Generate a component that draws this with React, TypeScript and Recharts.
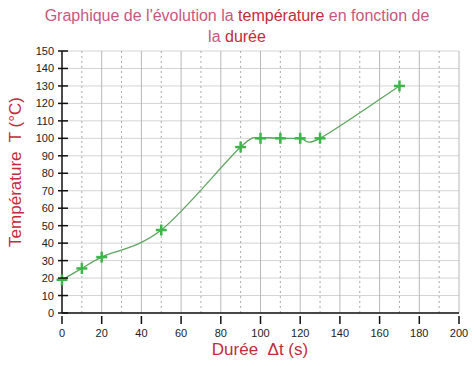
import { LineChart, Line, XAxis, YAxis, CartesianGrid, ReferenceLine, Label } from "recharts";

const durations = [0, 10, 20, 50, 90, 100, 110, 120, 130, 170];
const temperatures = [19, 25.5, 32, 47.5, 95, 100, 100, 100, 100, 130];
const xTicks = [0, 20, 40, 60, 80, 100, 120, 140, 160, 180, 200];
const yTicks = [0, 10, 20, 30, 40, 50, 60, 70, 80, 90, 100, 110, 120, 130, 140, 150];
const dottedX = [10, 30, 50, 70, 90, 110, 130, 150, 170, 190];

const data = durations.map((d, i) => ({ t: d, temp: temperatures[i] }));

const PINK = "#c8577e";
const RED = "#c42a3c";

// catmull-rom style smoothing, like the original plotting tool
const smoothCurve = (context: any) => {
  let pts: number[][] = [];
  return {
    areaStart() {},
    areaEnd() {},
    lineStart() {
      pts = [];
    },
    point(x: number, y: number) {
      pts.push([+x, +y]);
    },
    lineEnd() {
      if (!pts.length) return;
      context.moveTo(pts[0][0], pts[0][1]);
      for (let i = 0; i < pts.length - 1; i++) {
        const p0 = pts[Math.max(i - 1, 0)];
        const p1 = pts[i];
        const p2 = pts[i + 1];
        const p3 = pts[Math.min(i + 2, pts.length - 1)];
        context.bezierCurveTo(
          p1[0] + (p2[0] - p0[0]) / 6,
          p1[1] + (p2[1] - p0[1]) / 6,
          p2[0] - (p3[0] - p1[0]) / 6,
          p2[1] - (p3[1] - p1[1]) / 6,
          p2[0],
          p2[1]
        );
      }
    },
  };
};

function PlusDot(props: any) {
  const { cx, cy } = props;
  if (cx == null || cy == null) return null;
  return (
    <g stroke="#3cb54a" strokeWidth={2.5}>
      <line x1={cx - 5.5} y1={cy} x2={cx + 5.5} y2={cy} />
      <line x1={cx} y1={cy - 5.5} x2={cx} y2={cy + 5.5} />
    </g>
  );
}

function YTick(props: any) {
  const { x, y, payload } = props;
  return (
    <g>
      <line x1={x + 4} y1={y} x2={x + 14} y2={y} stroke="#111" strokeWidth={1.5} />
      <text x={x} y={y} dy={4} textAnchor="end" fontSize={11} fill="#222">
        {payload.value}
      </text>
    </g>
  );
}

function XTick(props: any) {
  const { x, y, payload } = props;
  return (
    <g>
      <line x1={x} y1={y - 5} x2={x} y2={y + 3} stroke="#111" strokeWidth={1.5} />
      <text x={x} y={y + 16} textAnchor="middle" fontSize={11} fill="#222">
        {payload.value}
      </text>
    </g>
  );
}

export default function App() {
  return (
    <div style={{ position: "absolute", left: 0, top: 0, width: 474, height: 366, background: "#fff", fontFamily: "'Liberation Sans', Arial, sans-serif" }}>
      <div style={{ position: "absolute", left: 0, top: 5, width: 474, textAlign: "center", fontSize: 16, lineHeight: "21px", color: PINK }}>
        Graphique de l'évolution la <span style={{ color: RED }}>température</span> en fonction de
        <br />
        la <span style={{ color: RED }}>durée</span>
      </div>
      <LineChart width={474} height={366} data={data} margin={{ top: 51, right: 15, bottom: 18, left: 10 }}>
        <CartesianGrid horizontal={true} vertical={false} stroke="#d4d4d4" />
        {dottedX.map((v) => (
          <ReferenceLine key={v} x={v} stroke="#aaa" strokeDasharray="2 3" />
        ))}
        {xTicks.slice(1).map((v) => (
          <ReferenceLine key={"s" + v} x={v} stroke="#b8b8b8" />
        ))}
        <XAxis
          dataKey="t"
          type="number"
          domain={[0, 200]}
          ticks={xTicks}
          interval={0}
          tickLine={false}
          tick={<XTick />}
          axisLine={{ stroke: "#111", strokeWidth: 1.5 }}
          height={35}
        >
          <Label
            content={() => (
              <text x={260} y={355} textAnchor="middle" fontSize={17} fill={RED}>
                {"Durée\u00a0 Δt (s)"}
              </text>
            )}
          />
        </XAxis>
        <YAxis
          type="number"
          domain={[0, 150]}
          ticks={yTicks}
          interval={0}
          tickLine={false}
          tick={<YTick />}
          axisLine={{ stroke: "#111", strokeWidth: 1.5 }}
          width={52}
        >
          <Label
            content={() => (
              <text x={21} y={172} transform="rotate(-90 21 172)" textAnchor="middle" fontSize={17} fill={RED}>
                {"Température\u00a0 T (°C)"}
              </text>
            )}
          />
        </YAxis>
        <Line
          type={smoothCurve as any}
          dataKey="temp"
          stroke="#5fa560"
          strokeWidth={1.3}
          dot={<PlusDot />}
          activeDot={false}
          isAnimationActive={false}
        />
      </LineChart>
    </div>
  );
}
